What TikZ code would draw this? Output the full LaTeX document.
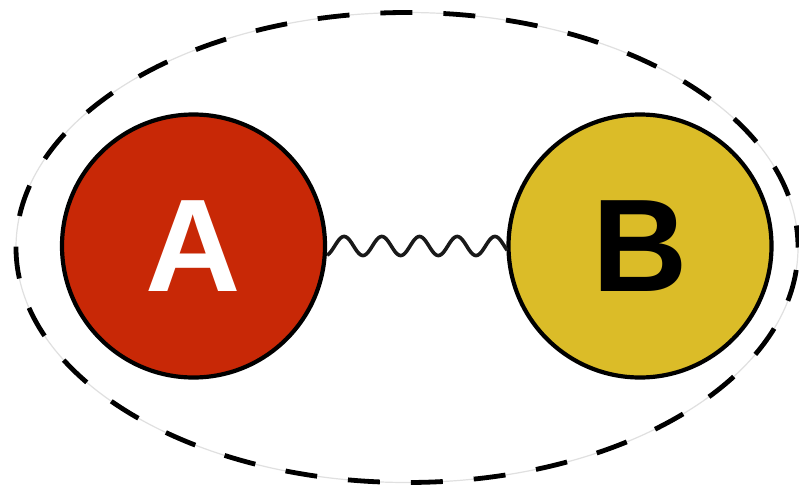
\documentclass[tikz,border=0pt]{standalone}
\usepackage{fontspec}
\setmainfont{Liberation Sans}
\definecolor{ared}{RGB}{200,40,6}
\definecolor{byellow}{RGB}{219,188,40}
\tikzset{
  ball/.style={circle, draw=black, line width=4.2pt, minimum size=263pt, inner sep=0pt,
    font=\fontsize{132}{132}\selectfont\bfseries},
  outline/.style={line width=4.8pt, dash pattern=on 32pt off 31pt, dash phase=10pt},
  faint/.style={line width=1.2pt, black!12},
  spring/.style={line width=3.6pt, line join=round, black!90}
}
\begin{document}
\begin{tikzpicture}[x=1pt,y=-1pt]
\useasboundingbox (0,0) rectangle (799,489);
\fill[white] (0,0) rectangle (799,489);
\coordinate (O) at (407,247.5);
\draw[faint] (O) ellipse [x radius=391pt, y radius=235pt];
\draw[outline] (O) ellipse [x radius=391pt, y radius=235pt];
\node[ball, fill=ared, text=white] (A) at (193.5,246) {A};
\node[ball, fill=byellow, text=black] (B) at (640,246) {B};
\draw[spring, shift={(A.east)}] plot[domain=0:180, samples=240, smooth] (\x, {-9.5*cos(9.5491*(\x-17))});
\end{tikzpicture}
\end{document}
